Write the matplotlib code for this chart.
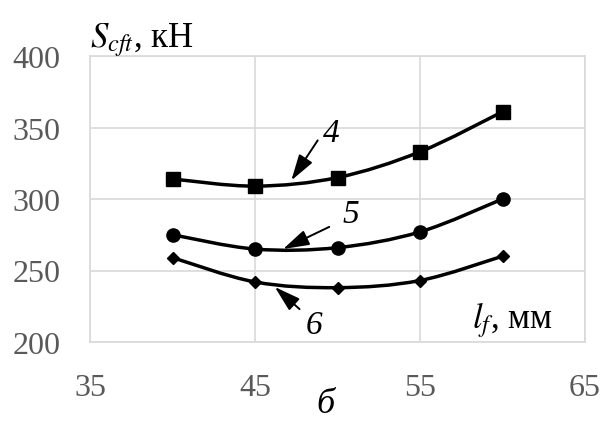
import numpy as np
import matplotlib
matplotlib.use("Agg")
import matplotlib.pyplot as plt
from matplotlib.path import Path
from matplotlib.patches import PathPatch

plt.rcParams['font.family'] = ['Liberation Serif', 'DejaVu Serif']
plt.rcParams['mathtext.fontset'] = 'stix'

x = [40, 45, 50, 55, 60]
s4 = [314, 309, 315, 333, 361]
s5 = [275, 265, 266, 277, 300]
s6 = [259, 242, 238, 243, 260]
xticks = [35, 45, 55, 65]
yticks = [200, 250, 300, 350, 400]

fig = plt.figure(figsize=(6.04, 4.27), dpi=100)
ax = fig.add_axes([90/604, 1-343/427, (585-90)/604, (343-57)/427])
ax.set_xlim(35, 65)
ax.set_ylim(200, 400)
ax.set_xticks(xticks)
ax.set_yticks(yticks)
ax.grid(True, color='#d9d9d9', lw=1.2)
for sp in ax.spines.values():
    sp.set_color('#d9d9d9'); sp.set_linewidth(1.2)
ax.tick_params(length=0, labelsize=23, colors='#595959')
ax.tick_params(axis='y', pad=21)
ax.tick_params(axis='x', pad=22)


def smooth_path(xs, ys, t=0.5):
    xs = np.asarray(xs, float); ys = np.asarray(ys, float)
    n = len(xs)
    verts = [(xs[0], ys[0])]
    codes = [Path.MOVETO]
    for i in range(n - 1):
        p0 = (xs[max(i-1, 0)], ys[max(i-1, 0)])
        p1 = (xs[i], ys[i]); p2 = (xs[i+1], ys[i+1])
        p3 = (xs[min(i+2, n-1)], ys[min(i+2, n-1)])
        c1 = (p1[0] + (p2[0]-p0[0])*t/3, p1[1] + (p2[1]-p0[1])*t/3)
        c2 = (p2[0] - (p3[0]-p1[0])*t/3, p2[1] - (p3[1]-p1[1])*t/3)
        verts += [c1, c2, p2]
        codes += [Path.CURVE4]*3
    return Path(verts, codes)

for ys, m, ms in [(s4, 's', 10), (s5, 'o', 9.5), (s6, 'D', 6.5)]:
    ax.add_patch(PathPatch(smooth_path(x, ys, 0.5), fc='none', ec='black', lw=2.5, zorder=3))
    ax.plot(x, ys, ls='none', marker=m, ms=ms, color='black', zorder=4)

arrow = dict(arrowstyle='-|>,head_length=1.0,head_width=0.3', color='black', lw=1.4, mutation_scale=16, shrinkA=0, shrinkB=0)
ax.annotate('', xy=(47.2, 313), xytext=(48.8, 341), arrowprops=arrow, zorder=5)
ax.text(49.6, 346, '4', fontsize=24, style='italic', ha='center', va='center')
ax.annotate('', xy=(46.7, 265), xytext=(49.5, 280.5), arrowprops=arrow, zorder=5)
ax.text(50.8, 290, '5', fontsize=24, style='italic', ha='center', va='center')
ax.annotate('', xy=(46.2, 238.5), xytext=(47.7, 223), arrowprops=arrow, zorder=5)
ax.text(48.6, 212, '6', fontsize=24, style='italic', ha='center', va='center')

fig.text(90/604, 1-40/427, r'$S_{cft}$' + ', кН', fontsize=25, ha='left', va='center')
ax.text(58.15, 216, r'$l_f$' + ', мм', fontsize=25, ha='left', va='center')
fig.text(325/604, 1-405/427, 'б', fontsize=26, style='italic', ha='center', va='center')

fig.savefig('out.png', dpi=100)
